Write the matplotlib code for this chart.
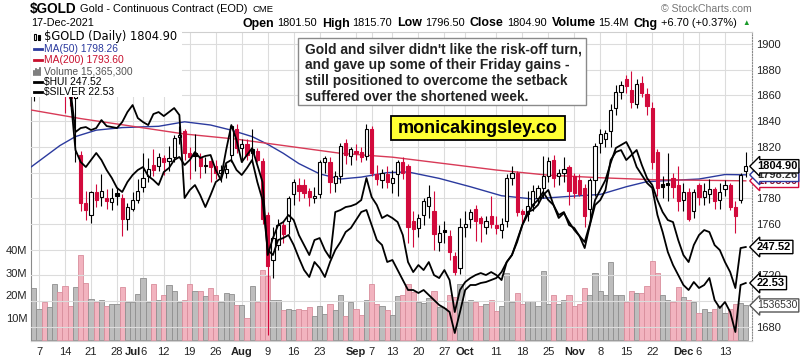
import numpy as np
import pandas as pd
import matplotlib
matplotlib.use("Agg")
import matplotlib.pyplot as plt
import matplotlib.transforms as mtransforms
from matplotlib import font_manager
from matplotlib.lines import Line2D
from matplotlib.patches import Rectangle

# --- data --------------------------------------------------------------------------
HOLIDAYS = ["2021-07-05", "2021-09-06", "2021-11-25"]
dates = pd.bdate_range("2021-06-03", "2021-12-17").drop(pd.to_datetime(HOLIDAYS))

opens = [
    1908, 1871, 1891, 1899, 1894, 1889, 1897, 1878, 1866, 1858,
    1814, 1776, 1767, 1785, 1781, 1780, 1777, 1784, 1780, 1764,
    1772, 1779, 1789, 1797, 1806, 1805, 1811, 1809, 1812, 1828,
    1832, 1815, 1815, 1812, 1805, 1809, 1805, 1800, 1800, 1814,
    1834, 1819, 1822, 1818, 1817, 1809, 1767, 1732, 1744, 1759,
    1762, 1783, 1790, 1790, 1786, 1780, 1783, 1808, 1808, 1792,
    1797, 1823, 1813, 1817, 1816, 1813, 1834, 1799, 1794, 1799,
    1792, 1799, 1808, 1805, 1762, 1757, 1767, 1774, 1770, 1746,
    1755, 1751, 1735, 1726, 1758, 1764, 1772, 1765, 1758, 1766,
    1759, 1755, 1762, 1796, 1800, 1770, 1768, 1775, 1780, 1788,
    1797, 1810, 1797, 1800, 1804, 1797, 1794, 1788, 1772, 1794,
    1823, 1826, 1832, 1850, 1863, 1873, 1864, 1853, 1870, 1861,
    1850, 1816, 1791, 1792, 1796, 1790, 1779, 1785, 1770, 1790,
    1781, 1783, 1787, 1779, 1787, 1790, 1773, 1779, 1801.5,
]
highs = [
    1910, 1895, 1903, 1905, 1900, 1902, 1899, 1880, 1869, 1866,
    1817, 1786, 1786, 1791, 1799, 1787, 1788, 1789, 1783, 1776,
    1785, 1795, 1815, 1811, 1818, 1815, 1814, 1821, 1829, 1836,
    1834, 1820, 1830, 1815, 1812, 1810, 1810, 1806, 1807, 1837,
    1838, 1826, 1826, 1834, 1819, 1811, 1769, 1758, 1764, 1762,
    1782, 1795, 1796, 1795, 1788, 1789, 1810, 1813, 1812, 1801,
    1823, 1826, 1820, 1822, 1820, 1838, 1836, 1806, 1803, 1805,
    1802, 1810, 1812, 1807, 1770, 1768, 1780, 1790, 1786, 1759,
    1762, 1755, 1738, 1765, 1770, 1772, 1775, 1766, 1766, 1782,
    1766, 1765, 1799, 1805, 1801, 1772, 1786, 1790, 1790, 1813,
    1812, 1814, 1803, 1812, 1806, 1800, 1799, 1791, 1796, 1823,
    1834, 1833, 1853, 1868, 1871, 1876, 1879, 1873, 1875, 1866,
    1855, 1818, 1797, 1815, 1800, 1805, 1792, 1788, 1787, 1792,
    1792, 1795, 1789, 1792, 1794, 1792, 1778, 1800, 1815.7,
]
lows = [
    1866, 1856, 1889, 1890, 1885, 1880, 1873, 1846, 1852, 1808,
    1770, 1763, 1761, 1773, 1774, 1772, 1771, 1775, 1751, 1755,
    1770, 1776, 1785, 1793, 1797, 1801, 1798, 1801, 1808, 1822,
    1810, 1795, 1801, 1796, 1800, 1793, 1795, 1793, 1796, 1808,
    1815, 1808, 1810, 1808, 1808, 1760, 1674, 1718, 1740, 1745,
    1752, 1775, 1778, 1780, 1774, 1776, 1780, 1800, 1784, 1785,
    1792, 1807, 1806, 1810, 1808, 1810, 1797, 1790, 1788, 1788,
    1784, 1782, 1795, 1745, 1742, 1750, 1759, 1765, 1740, 1739,
    1745, 1732, 1720, 1721, 1750, 1757, 1747, 1746, 1752, 1757,
    1752, 1749, 1758, 1790, 1766, 1760, 1762, 1770, 1776, 1780,
    1793, 1789, 1790, 1793, 1775, 1780, 1782, 1758, 1762, 1782,
    1815, 1820, 1820, 1845, 1857, 1862, 1850, 1850, 1859, 1845,
    1803, 1782, 1780, 1778, 1780, 1770, 1770, 1762, 1765, 1775,
    1775, 1776, 1772, 1772, 1782, 1771, 1753, 1776, 1796.5,
]
closes = [
    1872, 1892, 1900, 1895, 1897, 1899, 1879, 1866, 1858, 1861,
    1776, 1771, 1785, 1779, 1786, 1778, 1780, 1782, 1764, 1773,
    1779, 1786, 1796, 1803, 1802, 1812, 1808, 1811, 1827, 1829,
    1815, 1812, 1813, 1805, 1806, 1804, 1800, 1802, 1803, 1836,
    1819, 1822, 1814, 1815.5, 1810, 1764, 1727, 1749, 1759, 1752,
    1780, 1793, 1786, 1784, 1781, 1782, 1808, 1811, 1793, 1797,
    1821, 1814, 1818, 1815, 1812, 1834, 1800, 1795, 1800, 1793,
    1796, 1808, 1800, 1758, 1756, 1765, 1778, 1781, 1752, 1753,
    1754, 1738, 1723, 1758, 1760, 1769, 1762, 1761, 1762, 1760,
    1757, 1760, 1796, 1800, 1769, 1768, 1774, 1786, 1788, 1797,
    1809, 1796, 1800, 1803, 1786, 1784, 1783, 1766, 1794, 1821,
    1830, 1831, 1849, 1863, 1868, 1867, 1855, 1869, 1862, 1852,
    1808, 1788, 1789, 1790, 1789, 1778, 1785, 1764, 1785, 1781,
    1786, 1787, 1778, 1785, 1790, 1773, 1766, 1798, 1804.9,
]
# daily volume, millions of contracts
volumes = [
    27.4, 23, 14, 17, 14.8, 24.7, 21.5, 23.8, 15, 23.5,
    37.6, 25.3, 18.3, 17, 17.6, 15, 16, 16, 23.5, 16.9,
    16.9, 20.4, 27.4, 16.9, 24.8, 18, 20, 24.4, 22, 16.9,
    17.6, 25, 22, 22, 19.4, 23, 20, 17, 21, 20.5,
    15.7, 15.7, 10, 24, 17, 31, 28.5, 18, 18, 13.5,
    14, 13.5, 14, 13.5, 14.5, 10.5, 15, 11.5, 16, 13.5,
    20, 10.5, 17, 14, 11, 18, 25, 16, 15, 13.5,
    11, 19.5, 20, 25, 21.5, 17, 16.5, 18.5, 22, 14.8,
    14.3, 20, 19, 25, 17, 18, 17, 15, 16, 18,
    13, 15, 29.6, 17, 21, 16, 17.5, 17.5, 15, 30.8,
    16, 20, 16, 18, 20, 15, 16, 23, 20, 30,
    22, 20, 34.8, 20, 20, 17, 22, 21, 21, 24,
    35, 30, 20, 18, 17, 23.7, 19, 18, 17, 12,
    14, 12.5, 14, 15, 12, 14, 16, 16.5, 15.3653,
]
hui = [
    318.3, 319.9, 321.5, 320.7, 319.9, 321.1, 317.5, 314.3, 311.1, 293.5,
    295.1, 295.5, 294.3, 295.1, 298.3, 295.9, 295.5, 295.1, 297.5, 301.5,
    304.3, 299.1, 297.5, 296.3, 300.7, 301.5, 299.9, 301.5, 303.1, 300.3,
    267.1, 270.3, 272.3, 268.3, 263.5, 268.3, 273.5, 275.1, 286.3, 296.3,
    290.3, 281.5, 284.3, 287.1, 280.3, 273.5, 244.3, 251.1, 256.3, 257.5,
    260.3, 258.3, 252.3, 248.3, 244.3, 250.3, 251.1, 246.3, 243.1, 261.5,
    262.3, 263.5, 263.9, 264.7, 266.3, 275.1, 267.5, 264.3, 259.1, 260.3,
    259.1, 257.5, 252.3, 241.5, 237.5, 240.3, 238.3, 241.5, 236.3, 235.1,
    238.3, 234.3, 221.5, 230.3, 233.5, 235.1, 236.3, 237.1, 236.3, 237.5,
    236.3, 234.3, 241.5, 244.3, 250.3, 256.3, 260.3, 264.3, 266.3, 269.5,
    266.3, 264.3, 260.3, 261.5, 256.3, 255.1, 251.9, 247.1, 256.3, 264.3,
    266.3, 270.3, 282.3, 285.5, 286.3, 282.3, 284.3, 286.3, 280.3, 275.1,
    272.3, 266.3, 261.5, 258.3, 257.5, 250.3, 244.3, 241.5, 248.3, 252.3,
    254.3, 253.5, 248.3, 246.3, 241.5, 237.5, 231.1, 247.1, 247.52,
]
silver = [
    26.69, 26.75, 26.79, 26.75, 26.71, 26.67, 26.55, 26.43, 26.31, 25.19,
    24.95, 24.85, 24.99, 25.13, 24.99, 24.79, 24.63, 24.43, 24.35, 24.55,
    24.69, 24.79, 24.85, 24.67, 24.59, 24.49, 24.75, 24.83, 24.99, 25.05,
    24.89, 24.99, 25.15, 25.03, 25.07, 25.09, 24.79, 24.59, 24.93, 24.99,
    24.79, 24.69, 24.83, 24.99, 24.55, 24.19, 23.19, 23.09, 23.39, 23.43,
    23.49, 23.29, 23.03, 22.79, 22.65, 22.95, 22.83, 22.65, 22.95, 23.19,
    23.35, 23.55, 23.63, 23.79, 23.95, 23.99, 23.69, 23.39, 23.29, 22.95,
    22.99, 22.79, 22.59, 22.39, 22.39, 22.33, 22.39, 22.29, 22.19, 22.09,
    22.03, 21.95, 21.53, 21.95, 22.39, 22.49, 22.49, 22.53, 22.55, 22.59,
    22.63, 22.75, 22.95, 23.09, 23.35, 23.69, 23.95, 23.99, 24.09, 24.29,
    24.39, 24.09, 23.83, 23.93, 23.75, 23.59, 23.47, 23.35, 23.71, 24.19,
    24.39, 24.59, 24.93, 25.23, 25.29, 25.35, 25.15, 24.85, 24.69, 24.53,
    24.43, 23.89, 23.55, 23.15, 22.89, 22.69, 22.49, 22.39, 22.55, 22.43,
    22.49, 22.63, 22.19, 22.03, 22.15, 21.95, 21.55, 22.49, 22.53,
]
# moving averages (trading-day index, value)
ma50_idx = [0, 3, 6, 9, 13, 18, 25, 30, 35, 39, 43, 46, 49, 52, 56, 60, 64, 69, 73,
            79, 85, 91, 97, 104, 110, 115, 119, 124, 129, 134, 138]
ma50_val = [1803, 1812, 1821, 1828, 1833, 1835, 1836, 1839.5, 1837, 1833, 1828, 1822,
            1815, 1807, 1799, 1795, 1796.5, 1800, 1800.5, 1795.5, 1789, 1782, 1779.5,
            1781.5, 1783, 1789, 1793, 1794, 1795, 1798.5, 1798.26]
ma200_idx = [0, 10, 20, 30, 40, 50, 60, 70, 80, 90, 100, 110, 120, 130, 138]
ma200_val = [1849, 1842, 1836, 1830, 1826, 1820.5, 1815, 1812, 1807, 1802, 1798, 1796,
             1794.5, 1794, 1793.6]

tick_dates = ["2021-06-07", "2021-06-14", "2021-06-21", "2021-06-28", "2021-07-01",
              "2021-07-06", "2021-07-12", "2021-07-19", "2021-07-26", "2021-08-02",
              "2021-08-09", "2021-08-16", "2021-08-23", "2021-09-01", "2021-09-07",
              "2021-09-13", "2021-09-20", "2021-09-27", "2021-10-01", "2021-10-11",
              "2021-10-18", "2021-10-25", "2021-11-01", "2021-11-08", "2021-11-15",
              "2021-11-22", "2021-12-01", "2021-12-06", "2021-12-13"]
tick_labels = ["7", "14", "21", "28", "Jul", "6", "12", "19", "26", "Aug", "9", "16", "23",
               "Sep", "7", "13", "20", "27", "Oct", "11", "18", "25", "Nov", "8", "15", "22",
               "Dec", "6", "13"]
MONTHS = {"Jul", "Aug", "Sep", "Oct", "Nov", "Dec"}
# price levels whose labels sit under the value tags on the right
HIDDEN_PRICE_LABELS = {1700, 1740, 1800}

# --- layout helpers (figure pixels) ----------------------------------------------------
W, H = 803, 359
RED = "#d20a3c"


def fx(px):
    return px / W


def fy(py):
    return 1 - py / H


plt.rcParams["font.family"] = ["Liberation Sans", "DejaVu Sans"]
names = {f.name for f in font_manager.fontManager.ttflist}
NARROW = "Liberation Sans Narrow" if "Liberation Sans Narrow" in names else "Liberation Sans"

o, h, l, c = (np.asarray(a, float) for a in (opens, highs, lows, closes))
x = np.arange(len(dates))
assert len(x) == len(o) == len(h) == len(l) == len(c) == len(volumes) == len(hui) == len(silver)
prev = np.r_[o[0], c[:-1]]
up = c >= prev
col = np.where(up, "black", RED)
face = np.where(c > o, "white", col)

fig = plt.figure(figsize=(W / 100, H / 100), dpi=100)
rect = [fx(31.5), fy(341), (752 - 31.5) / W, (341 - 32) / H]
axv = fig.add_axes(rect)
ax = fig.add_axes(rect, facecolor="none")
axh = fig.add_axes(rect, facecolor="none")
axs = fig.add_axes(rect, facecolor="none")
for a in (axv, ax, axh, axs):
    a.set_xlim(0.54, 139.2)
    for s in a.spines.values():
        s.set_visible(False)

# volume panel (bottom layer), also carries the date axis
vol_fc = np.where(up, "#bdbdbd", "#f2b3bf")
vol_ec = np.where(up, "#8f8f8f", "#d88d9c")
axv.bar(x, np.asarray(volumes) * 1e6, width=1.0, color=vol_fc, edgecolor=vol_ec, linewidth=0.6)
axv.set_ylim(-0.44e6, 136.9e6)
axv.set_yticks([10e6, 20e6, 30e6, 40e6], ["10M", "20M", "30M", "40M"])
tick_pos = [dates.get_loc(pd.Timestamp(d)) for d in tick_dates]
axv.set_xticks(tick_pos, tick_labels)
for t in axv.get_xticklabels():
    if t.get_text() in MONTHS:
        t.set_fontweight("bold")
axv.tick_params(axis="both", length=0, labelsize=8, labelcolor="#222")
axv.tick_params(axis="x", pad=4)
axv.tick_params(axis="y", pad=3)
axv.grid(axis="x", color="#dcdcdc", lw=0.8)
axv.set_axisbelow(True)
for side, colr in (("left", "#8a8a8a"), ("top", "#cfcfcf"), ("bottom", "#cfcfcf")):
    axv.spines[side].set_visible(True)
    axv.spines[side].set_color(colr)
axv.spines["right"].set_visible(True)
axv.spines["right"].set_linestyle((0, (1, 1.5)))
axv.spines["right"].set_color("#8a8a8a")

# price panel
ax.set_ylim(1669.05, 1909.33)
ax.yaxis.tick_right()
levels = np.arange(1680, 1901, 20)
ax.set_yticks(levels, ["" if v in HIDDEN_PRICE_LABELS else str(v) for v in levels])
ax.set_xticks([])
ax.tick_params(axis="y", length=0, pad=3, labelsize=8, labelcolor="#222")
ax.grid(axis="y", color="#dcdcdc", lw=0.8)
ax.set_axisbelow(True)
ax.plot(ma50_idx, ma50_val, color="#2b3a9e", lw=1.0, zorder=2)
ax.plot(ma200_idx, ma200_val, color="#d83a57", lw=1.0, zorder=2)
ax.vlines(x, l, h, colors=col, lw=0.8, zorder=3)
ax.bar(x, np.abs(c - o), bottom=np.minimum(o, c), width=0.62, color=face,
       edgecolor=col, linewidth=0.8, zorder=4)

# overlays
axh.plot(x, hui, color="black", lw=1.3)
axh.set_ylim(209.92, 333.52)
axs.plot(x, silver, color="black", lw=1.3)
axs.set_ylim(21.37, 27.55)
for a in (axh, axs):
    a.set_xticks([])
    a.set_yticks([])


# right-hand value tags
def tag(yval, ytrans, label, ec, tc, weight="bold", size=8):
    tr = mtransforms.blended_transform_factory(axs.transAxes, ytrans)
    axs.annotate(label, xy=(1.0, yval), xycoords=tr, xytext=(3.5, 0), textcoords="offset points",
                 ha="left", va="center", fontsize=size, fontweight=weight, color=tc,
                 annotation_clip=False,
                 bbox=dict(boxstyle="larrow,pad=0.15", fc="white", ec=ec, lw=1.0))


tag(1793.60, ax.transData, "1793.60", RED, "#8a1030")
tag(1798.26, ax.transData, "1798.26", "#2b3a9e", "#333")
tag(1804.90, ax.transData, "1804.90", "black", "black")
tag(247.52, axh.transData, "247.52", "black", "black")
tag(22.53, axs.transData, "22.53", "black", "black")
tag(15.3653e6, axv.transData, "1536530", "#555", "#333", weight="normal", size=7.5)

# legend block, drawn on white over the early-June candles
fig.add_artist(Rectangle((fx(31.5), fy(97)), (182 - 31.5) / W, (97 - 32.5) / H,
                         transform=fig.transFigure, fc="white", ec="none", zorder=5))
fig.text(fx(44), fy(36.5), "$GOLD (Daily) 1804.90", family="DejaVu Sans", fontsize=8.3,
         va="center", zorder=6)
legend_rows = [("MA(50) 1798.26", "#2b3a9e", 49), ("MA(200) 1793.60", "#c8102e", 60),
               ("Volume 15,365,300", "#555555", 71), ("$HUI 247.52", "black", 81.5),
               ("$SILVER 22.53", "black", 92)]
for label, colr, yy in legend_rows:
    fig.text(fx(44), fy(yy), label, fontsize=7.4, color=colr, va="center", zorder=6)
    if label.startswith("Volume"):
        for k, hh in enumerate((4, 6, 5, 7)):
            fig.add_artist(Line2D([fx(34 + 2 * k)] * 2, [fy(yy + 3.5), fy(yy + 3.5 - hh)],
                                  transform=fig.transFigure, color="#666", lw=1.2, zorder=6))
    else:
        fig.add_artist(Line2D([fx(34), fx(42)], [fy(yy)] * 2, transform=fig.transFigure,
                              color=colr, lw=2.0, zorder=6))
for k, (y0, y1) in enumerate(((33.5, 39.5), (34.5, 40))):
    fig.add_artist(Rectangle((fx(34 + 4 * k), fy(y1)), 2.4 / W, (y1 - y0) / H,
                             transform=fig.transFigure, fc="white" if k == 0 else "black",
                             ec="black", lw=0.8, zorder=6))

# header
fig.text(fx(30), fy(9.5), "$GOLD", family=NARROW, fontweight="bold", fontsize=9.8, va="center")
fig.text(fx(80), fy(9.5), "Gold - Continuous Contract (EOD)", fontsize=7.9, va="center")
fig.text(fx(253), fy(10), "CME", fontsize=6.8, va="center")
fig.text(fx(31), fy(23.5), "17-Dec-2021", fontsize=7.8, va="center")
fig.text(fx(752), fy(8.5), "\u00a9 StockCharts.com", fontsize=7.6, color="#777", ha="right",
         va="center")

pieces = [("Open", "bold"), ("1801.50", "normal"), ("High", "bold"), ("1815.70", "normal"),
          ("Low", "bold"), ("1796.50", "normal"), ("Close", "bold"), ("1804.90", "normal"),
          ("Volume", "bold"), ("15.4M", "normal"), ("Chg", "bold"), ("+6.70 (+0.37%)", "normal")]
renderer = fig.canvas.get_renderer()
texts, widths = [], []
for s, wt in pieces:
    t = fig.text(0, fy(23.5), s, fontweight=wt, fontsize=8.9 if wt == "bold" else 7.9,
                 va="center")
    texts.append(t)
    widths.append(t.get_window_extent(renderer).width)
gaps = [3 if wt == "bold" else 5 for _, wt in pieces]
xpos = 737 - (sum(widths) + sum(gaps[:-1]))
for t, wdt, g in zip(texts, widths, gaps):
    t.set_x(fx(xpos))
    xpos += wdt + g
fig.text(fx(xpos), fy(23.5), "\u25b2", fontsize=5.5, color="#1a9a2a", va="center")

# commentary boxes
fig.add_artist(Rectangle((fx(298), fy(104.5)), (586 - 298) / W, (104.5 - 37.5) / H,
                         transform=fig.transFigure, fc="white", ec="#8a8a8a", lw=1.0, zorder=7))
comment = ["Gold and silver didn't like the risk-off turn,",
           "and gave up some of their Friday gains -",
           "still positioned to overcome the setback",
           "suffered over the shortened week."]
for k, line in enumerate(comment):
    fig.text(fx(305), fy(53.5 + 15.7 * k), line, fontsize=9.9, fontweight="bold",
             color="#222", va="baseline", zorder=8)

fig.add_artist(Rectangle((fx(391), fy(140)), (565 - 391) / W, (140 - 116) / H,
                         transform=fig.transFigure, fc="#ffff33", ec="black", lw=1.3, zorder=7))
fig.text(fx(478), fy(128.5), "monicakingsley.co", fontsize=13, fontweight="bold",
         ha="center", va="center", zorder=8)

fig.savefig("out.png", dpi=100)
